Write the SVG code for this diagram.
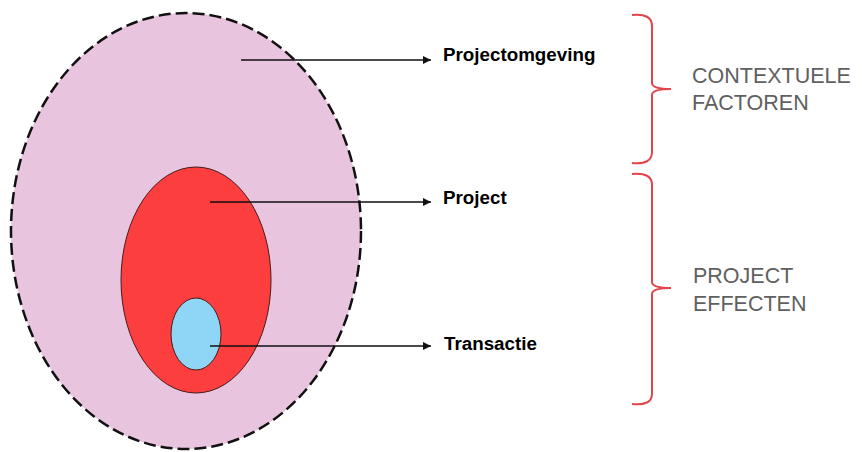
<svg xmlns="http://www.w3.org/2000/svg" width="862" height="452" viewBox="0 0 862 452">
<style>
.lbl{font-family:"Liberation Sans",Arial,sans-serif;font-weight:bold;font-size:18.8px;fill:#000}
.cat{font-family:"Liberation Sans",Arial,sans-serif;font-size:21.5px;fill:#606060}
.conn{stroke:#111;stroke-width:1.3;fill:none;marker-end:url(#ah)}
.brace{stroke:#e0474c;stroke-width:2;fill:none}
</style>
<defs>
<marker id="ah" viewBox="0 0 10 10" refX="10" refY="5" markerWidth="10" markerHeight="8" markerUnits="userSpaceOnUse" orient="auto">
<path d="M0,0 L10,5 L0,10 z" fill="#111"/>
</marker>
</defs>
<rect width="862" height="452" fill="#fff"/>
<g id="projectomgeving">
<ellipse cx="186" cy="231" rx="175" ry="218" fill="#e8c4de" stroke="#111" stroke-width="2.5" stroke-dasharray="12,5"/>
</g>
<g id="project">
<ellipse cx="196" cy="280" rx="75" ry="113" fill="#fc3e3e" stroke="#4a1a1a" stroke-width="1"/>
</g>
<g id="transactie">
<ellipse cx="196" cy="334" rx="25" ry="36" fill="#8fd6f6" stroke="#4a1a1a" stroke-width="1"/>
</g>
<g id="connectors">
<line class="conn" x1="241" y1="60" x2="431" y2="60"/>
<line class="conn" x1="210" y1="202" x2="431" y2="202"/>
<line class="conn" x1="210" y1="346" x2="431" y2="346"/>
</g>
<g id="labels">
<text class="lbl" x="443" y="61">Projectomgeving</text>
<text class="lbl" x="443" y="204">Project</text>
<text class="lbl" x="444" y="350">Transactie</text>
</g>
<g id="contextuele-factoren">
<path class="brace" d="M632,15 Q652,13 652,26 L652,83 Q652,89 671,89 Q652,89 652,95 L652,152 Q652,165 632,163"/>
<text class="cat" x="692" y="83">CONTEXTUELE</text>
<text class="cat" x="692" y="110">FACTOREN</text>
</g>
<g id="project-effecten">
<path class="brace" d="M632,174 Q652,172 652,185 L652,282 Q652,288 671,288 Q652,288 652,294 L652,394 Q652,406 632,404"/>
<text class="cat" x="693" y="283">PROJECT</text>
<text class="cat" x="693" y="311">EFFECTEN</text>
</g>
</svg>
